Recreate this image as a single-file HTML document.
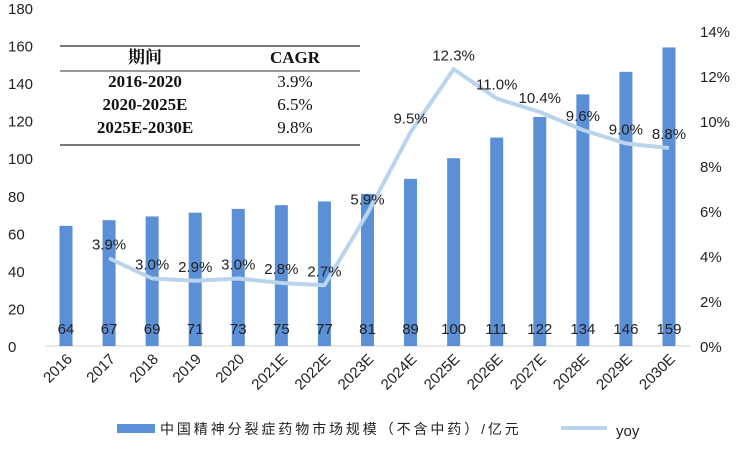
<!DOCTYPE html>
<html><head><meta charset="utf-8"><style>
body{margin:0;background:#fff;}
</style></head><body>
<svg id="c" width="740" height="444" xmlns="http://www.w3.org/2000/svg" style='font-family:"Liberation Sans","Noto Sans CJK SC",sans-serif'></svg>
<script>
const categories=["2016","2017","2018","2019","2020","2021E","2022E","2023E","2024E","2025E","2026E","2027E","2028E","2029E","2030E"];
const marketSize=[64,67,69,71,73,75,77,81,89,100,111,122,134,146,159];
const yoy=[null,3.9,3.0,2.9,3.0,2.8,2.7,5.9,9.5,12.3,11.0,10.4,9.6,9.0,8.8];
const leftTicks=[0,20,40,60,80,100,120,140,160,180];
const rightTicks=[0,2,4,6,8,10,12,14];
const NS="http://www.w3.org/2000/svg";
const svg=document.getElementById('c');
function el(t,a,txt){const e=document.createElementNS(NS,t);for(const k in a)e.setAttribute(k,a[k]);if(txt!=null)e.textContent=txt;svg.appendChild(e);return e;}
const x=i=>66+i*43.07;
const yL=v=>346-v*(338/180);
const yR=v=>346-v*(315/14);
leftTicks.forEach(v=>{const t=el('text',{x:8,y:yL(v)+6,'font-size':15,fill:'#222'},v);

});
rightTicks.forEach(v=>{const t=el('text',{x:700,y:yR(v)+6,'font-size':15,fill:'#222'},v+'%');

});
const ax=el('line',{x1:45,x2:690,y1:346,y2:346,stroke:'#d0d0d0','stroke-width':1});


marketSize.forEach((v,i)=>{
const b=el('rect',{x:x(i)-6.5,y:yL(v),width:13,height:346-yL(v),fill:'#5b8fd6'});


const t=el('text',{x:x(i),y:334,'font-size':15,'text-anchor':'middle',fill:'#222'},v);


const c=el('text',{transform:`translate(${x(i)+7},360) rotate(-45)`,'font-size':15,'text-anchor':'end',fill:'#222'},categories[i]);


});
let pts=[];yoy.forEach((v,i)=>{if(v!=null)pts.push(x(i)+','+yR(v));});
const ln=el('polyline',{points:pts.join(' '),fill:'none',stroke:'#b9d4ec','stroke-width':4,'stroke-linejoin':'round'});


yoy.forEach((v,i)=>{if(v==null)return;
const t=el('text',{x:x(i),y:yR(v)-9,'font-size':15,'text-anchor':'middle',fill:'#222'},v.toFixed(1)+'%');

});
// table
const g=[[46,2],[71,1.5],[145,2]];
g.forEach(([y,w])=>el('line',{x1:60,x2:360,y1:y,y2:y,stroke:'#777','stroke-width':w}));
const rows=[["期间","CAGR",63],["2016-2020","3.9%",87],["2020-2025E","6.5%",110],["2025E-2030E","9.8%",133]];
const serif='font-family:"Liberation Serif","Noto Serif CJK SC",serif';
rows.forEach((r,i)=>{
const a=el('text',{x:145,y:r[2],'font-size':17,'font-weight':'bold','text-anchor':'middle',style:serif,fill:'#111'},r[0]);


const b=el('text',{x:295,y:r[2],'font-size':17,'font-weight':i==0?'bold':'normal','text-anchor':'middle',style:serif,fill:'#111'},r[1]);


});
// legend
const lb=el('rect',{x:117,y:424,width:38,height:9,fill:'#5b8fd6'});


const lt=el('text',{x:160,y:434,'font-size':14,'letter-spacing':'2.9',fill:'#222'},'中国精神分裂症药物市场规模（不含中药）/亿元');


const ll=el('line',{x1:561,x2:607,y1:428,y2:428,stroke:'#b9d4ec','stroke-width':4});


const lt2=el('text',{x:616,y:436,'font-size':15,fill:'#222'},'yoy');


</script>
</body></html>
